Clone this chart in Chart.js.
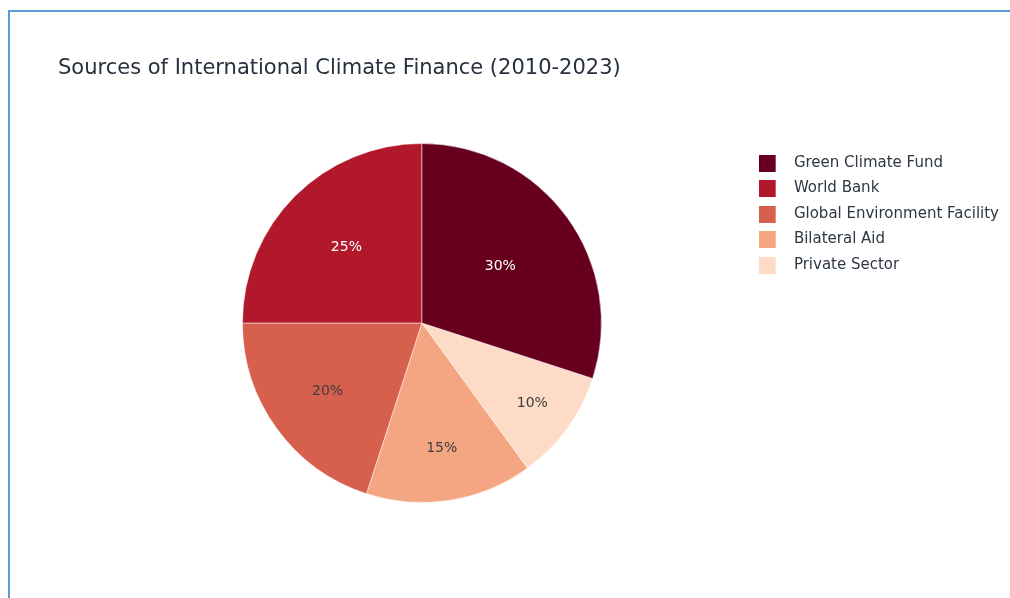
<!DOCTYPE html>
<html>
<head>
<meta charset="utf-8">
<script src="https://cdn.jsdelivr.net/npm/chart.js@4.4.1/dist/chart.umd.min.js"></script>
<style>
  html, body { margin: 0; padding: 0; background: #fff; }
  body { width: 1010px; height: 598px; overflow: hidden; position: relative; }
  .frame { position: absolute; left: 8px; top: 10px; width: 1100px; height: 700px; border: 2px solid #5b9bd5; }
  .wrap { position: absolute; left: 0; top: 0; width: 1010px; height: 598px; }
</style>
</head>
<body>
<div class="frame"></div>
<div class="wrap"><canvas id="chart"></canvas></div>
<script>
const titleText = 'Sources of International Climate Finance (2010-2023)'
const categories = ['Green Climate Fund', 'World Bank', 'Global Environment Facility', 'Bilateral Aid', 'Private Sector']
const shares = [30, 25, 20, 15, 10]
const palette = ['#67001f', '#b2182b', '#d6604d', '#f4a582', '#fddbc7']

const FONT = '"DejaVu Sans", sans-serif'

// slices run counter-clockwise in the original, so feed them reversed
// and start the first one where the last legend entry ends
const total = shares.reduce((a, b) => a + b, 0)
const drawLabels = categories.slice().reverse()
const drawValues = shares.slice().reverse()
const drawColors = palette.slice().reverse()
const startAngle = drawValues[drawValues.length - 1] / total * 360

// legend swatch: square on the left, empty space to push the text out
function swatch(color) {
  const c = document.createElement('canvas')
  c.width = 28
  c.height = 17
  const g = c.getContext('2d')
  g.fillStyle = color
  g.fillRect(0, 0, 17, 17)
  return c
}

const percentLabels = {
  id: 'percentLabels',
  afterDatasetsDraw(chart) {
    const ctx = chart.ctx
    const meta = chart.getDatasetMeta(0)
    ctx.save()
    ctx.font = '14px ' + FONT
    ctx.textAlign = 'center'
    ctx.textBaseline = 'middle'
    meta.data.forEach((arc, i) => {
      const v = drawValues[i]
      const p = arc.getProps(['x', 'y', 'startAngle', 'endAngle', 'outerRadius'])
      const mid = (p.startAngle + p.endAngle) / 2
      const r = p.outerRadius * (0.87 - 0.011 * v)
      ctx.fillStyle = v >= 25 ? '#ffffff' : '#3d3d3d'
      ctx.fillText(v + '%', p.x + Math.cos(mid) * r, p.y + Math.sin(mid) * r)
    })
    ctx.restore()
  }
}

new Chart(document.getElementById('chart').getContext('2d'), {
  type: 'pie',
  data: {
    labels: drawLabels,
    datasets: [{
      data: drawValues,
      backgroundColor: drawColors,
      borderColor: 'rgba(255,255,255,0.5)',
      borderWidth: 1
    }]
  },
  options: {
    responsive: true,
    maintainAspectRatio: false,
    animation: false,
    rotation: startAngle,
    layout: { padding: { left: 58, top: 10, right: 1, bottom: 95 } },
    plugins: {
      title: {
        display: true,
        text: titleText,
        align: 'start',
        color: '#27313d',
        font: { family: FONT, size: 21, weight: 'normal', lineHeight: 1.2 },
        padding: { top: 46.4, bottom: 61.4 }
      },
      // blank spacer so the pie sits further right than the title
      subtitle: {
        display: true,
        position: 'left',
        fullSize: false,
        text: '',
        font: { size: 1, lineHeight: 1 },
        padding: { top: 36.5, bottom: 0 }
      },
      legend: {
        position: 'right',
        align: 'start',
        fullSize: false,
        reverse: true,
        maxWidth: 320,
        // empty title only nudges the rows down a little
        title: { display: true, text: '', font: { size: 2, lineHeight: 1 }, padding: 0 },
        labels: {
          color: '#2e3744',
          font: { family: FONT, size: 15 },
          padding: 10.5,
          usePointStyle: true,
          pointStyleWidth: 27.5,
          boxHeight: 17,
          generateLabels(chart) {
            const items = Chart.overrides.pie.plugins.legend.labels.generateLabels(chart)
            items.forEach(it => { it.pointStyle = swatch(it.fillStyle) })
            return items
          }
        }
      },
      tooltip: { enabled: false }
    }
  },
  plugins: [percentLabels]
})
</script>
</body>
</html>
